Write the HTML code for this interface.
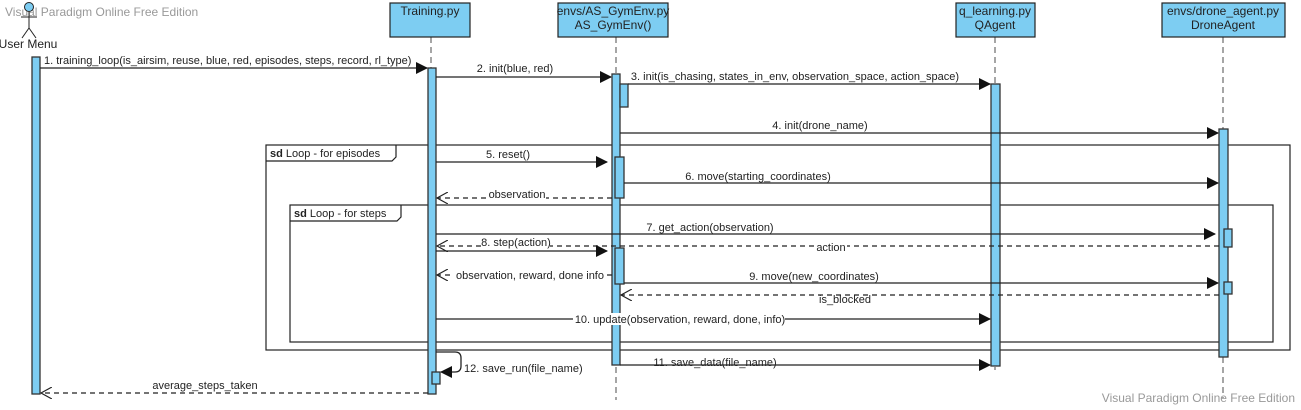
<!DOCTYPE html>
<html><head><meta charset="utf-8"><style>
html,body{margin:0;padding:0;background:#fff;}
svg{display:block;}
text{font-family:"Liberation Sans",Arial,sans-serif;font-size:11px;fill:#222;}
.wm{fill:#999;font-size:12px;}
.act{fill:#7dcdf2;stroke:#333;stroke-width:1.3;}
.hd{fill:#7dcdf2;stroke:#222;stroke-width:1.2;}
.ll{stroke:#888;stroke-width:1.5;stroke-dasharray:6,4;}
.m{stroke:#222;stroke-width:1.3;fill:none;}
.r{stroke:#222;stroke-width:1.3;fill:none;stroke-dasharray:5,4;}
.fr{fill:none;stroke:#222;stroke-width:1.2;}
</style></head><body>
<svg width="1301" height="410" viewBox="0 0 1301 410" xmlns="http://www.w3.org/2000/svg">
<defs>
<marker id="f" markerWidth="12" markerHeight="12" refX="11" refY="6" orient="auto" markerUnits="userSpaceOnUse"><path d="M0,0 L12,6 L0,12 z" fill="#111"/></marker>
<marker id="o" markerWidth="12" markerHeight="12" refX="11" refY="6" orient="auto" markerUnits="userSpaceOnUse"><path d="M0,0 L11,6 L0,12" fill="none" stroke="#222" stroke-width="1.2"/></marker>
</defs>
<text class="wm" x="5" y="16">Visual Paradigm Online Free Edition</text>
<text class="wm" x="1295" y="402" text-anchor="end">Visual Paradigm Online Free Edition</text>

<!-- lifelines -->
<line class="ll" x1="431" y1="37" x2="431" y2="395"/>
<line class="ll" x1="616" y1="37" x2="616" y2="400"/>
<line class="ll" x1="995" y1="37" x2="995" y2="370"/>
<line class="ll" x1="1223" y1="37" x2="1223" y2="398"/>

<!-- actor -->
<circle cx="29" cy="7" r="4.5" fill="#7dcdf2" stroke="#222"/>
<line x1="29" y1="12" x2="29" y2="28" stroke="#222"/>
<line x1="21" y1="17" x2="37" y2="17" stroke="#222"/>
<line x1="29" y1="28" x2="22" y2="38" stroke="#222"/>
<line x1="29" y1="28" x2="36" y2="38" stroke="#222"/>
<text x="28" y="48" text-anchor="middle" font-size="12" style="font-size:12px">User Menu</text>

<!-- heads -->
<rect class="hd" x="390" y="3" width="80" height="34"/>
<text x="430" y="15" text-anchor="middle" style="font-size:12px">Training.py</text>
<rect class="hd" x="558" y="3" width="110" height="34"/>
<text x="613" y="15" text-anchor="middle" style="font-size:12px">envs/AS_GymEnv.py</text>
<text x="613" y="29" text-anchor="middle" style="font-size:12px">AS_GymEnv()</text>
<rect class="hd" x="956" y="3" width="79" height="34"/>
<text x="995" y="15" text-anchor="middle" style="font-size:12px">q_learning.py</text>
<text x="995" y="29" text-anchor="middle" style="font-size:12px">QAgent</text>
<rect class="hd" x="1162" y="3" width="123" height="34"/>
<text x="1223" y="15" text-anchor="middle" style="font-size:12px">envs/drone_agent.py</text>
<text x="1223" y="29" text-anchor="middle" style="font-size:12px">DroneAgent</text>

<!-- frames -->
<rect class="fr" x="266" y="145" width="1024" height="205"/>
<path class="fr" d="M266,161 H392 L396,157 V145"/>
<text x="270" y="157"><tspan font-weight="bold">sd</tspan> Loop - for episodes</text>
<rect class="fr" x="290" y="205" width="983" height="137"/>
<path class="fr" d="M290,221 H397 L401,217 V205"/>
<text x="294" y="217"><tspan font-weight="bold">sd</tspan> Loop - for steps</text>

<!-- activations -->
<rect class="act" x="32" y="57" width="8" height="337"/>
<rect class="act" x="428" y="68" width="8" height="326"/>
<rect class="act" x="432" y="372" width="8" height="12"/>
<rect class="act" x="612" y="74" width="8" height="291"/>
<rect class="act" x="620" y="84" width="8" height="23"/>
<rect class="act" x="615" y="157" width="9" height="41"/>
<rect class="act" x="615" y="248" width="9" height="36"/>
<rect class="act" x="991" y="84" width="9" height="282"/>
<rect class="act" x="1219" y="129" width="9" height="228"/>
<rect class="act" x="1224" y="229" width="8" height="18"/>
<rect class="act" x="1224" y="282" width="8" height="12"/>

<!-- messages -->
<line class="m" x1="40" y1="68" x2="427" y2="68" marker-end="url(#f)"/>
<text x="44" y="64">1. training_loop(is_airsim, reuse, blue, red, episodes, steps, record, rl_type)</text>
<line class="m" x1="436" y1="77" x2="611" y2="77" marker-end="url(#f)"/>
<text x="515" y="72" text-anchor="middle">2. init(blue, red)</text>
<line class="m" x1="628" y1="84" x2="990" y2="84" marker-end="url(#f)"/>
<text x="795" y="80" text-anchor="middle">3. init(is_chasing, states_in_env, observation_space, action_space)</text>
<line class="m" x1="620" y1="133" x2="1218" y2="133" marker-end="url(#f)"/>
<text x="820" y="129" text-anchor="middle">4. init(drone_name)</text>
<line class="m" x1="436" y1="162" x2="607" y2="162" marker-end="url(#f)"/>
<text x="508" y="158" text-anchor="middle">5. reset()</text>
<line class="m" x1="624" y1="183" x2="1218" y2="183" marker-end="url(#f)"/>
<text x="758" y="180" text-anchor="middle">6. move(starting_coordinates)</text>
<line class="r" x1="612" y1="198" x2="437" y2="198" marker-end="url(#o)"/>
<rect x="488" y="189" width="58" height="10" fill="#fff"/>
<text x="517" y="198" text-anchor="middle">observation</text>
<line class="m" x1="436" y1="234" x2="1215" y2="234" marker-end="url(#f)"/>
<text x="710" y="231" text-anchor="middle">7. get_action(observation)</text>
<line class="r" x1="1219" y1="246" x2="437" y2="246" marker-end="url(#o)"/>
<rect x="815" y="242" width="32" height="10" fill="#fff"/>
<text x="831" y="251" text-anchor="middle">action</text>
<line class="m" x1="436" y1="251" x2="607" y2="251" marker-end="url(#f)"/>
<rect x="482" y="237" width="68" height="10" fill="#fff"/>
<text x="516" y="246" text-anchor="middle">8. step(action)</text>
<line class="r" x1="612" y1="275" x2="437" y2="275" marker-end="url(#o)"/>
<rect x="453" y="268" width="154" height="12" fill="#fff"/>
<text x="530" y="279" text-anchor="middle">observation, reward, done info</text>
<line class="m" x1="624" y1="283" x2="1218" y2="283" marker-end="url(#f)"/>
<text x="814" y="280" text-anchor="middle">9. move(new_coordinates)</text>
<line class="r" x1="1219" y1="295" x2="621" y2="295" marker-end="url(#o)"/>
<text x="845" y="303" text-anchor="middle">is_blocked</text>
<line class="m" x1="436" y1="319" x2="990" y2="319" marker-end="url(#f)"/>
<rect x="573" y="313" width="212" height="12" fill="#fff"/>
<text x="680" y="323" text-anchor="middle">10. update(observation, reward, done, info)</text>
<line class="m" x1="620" y1="365" x2="990" y2="365" marker-end="url(#f)"/>
<text x="715" y="366" text-anchor="middle">11. save_data(file_name)</text>
<path class="m" d="M436,352 H455 Q461,352 461,358 V366 Q461,372 455,372 H441" marker-end="url(#f)"/>
<text x="464" y="372">12. save_run(file_name)</text>
<line class="r" x1="428" y1="393" x2="41" y2="393" marker-end="url(#o)"/>
<text x="205" y="389" text-anchor="middle">average_steps_taken</text>
</svg>
</body></html>
